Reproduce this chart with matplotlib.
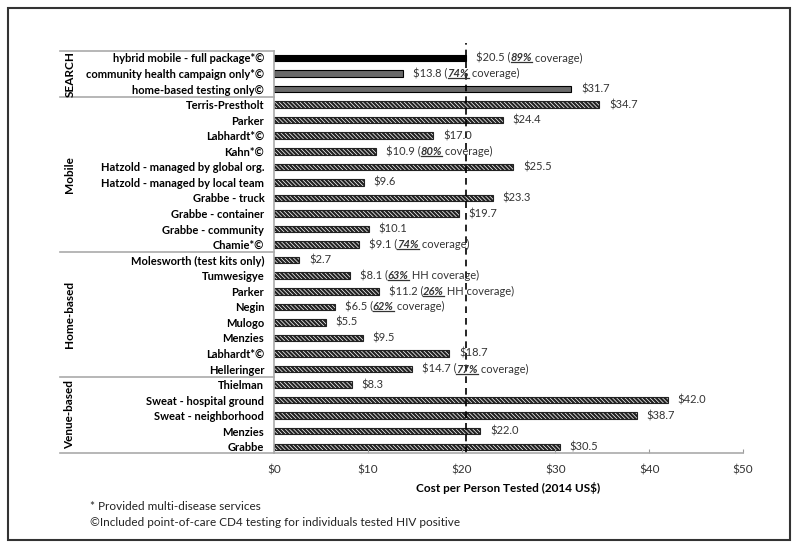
import numpy as np
import matplotlib
matplotlib.use("Agg")
import matplotlib.pyplot as plt
from matplotlib.patches import Rectangle
import matplotlib.transforms as mtransforms

plt.rcParams['font.family'] = ['Lato', 'DejaVu Sans']
plt.rcParams['hatch.linewidth'] = 1.6

################################################################################
# data

names = ["hybrid mobile - full package*\u00a9", "community health campaign only*\u00a9",
         "home-based testing only\u00a9",
         "Terris-Prestholt", "Parker", "Labhardt*\u00a9", "Kahn*\u00a9",
         "Hatzold - managed by global org.", "Hatzold - managed by local team",
         "Grabbe - truck", "Grabbe - container", "Grabbe - community", "Chamie*\u00a9",
         "Molesworth (test kits only)", "Tumwesigye", "Parker", "Negin", "Mulogo",
         "Menzies", "Labhardt*\u00a9", "Helleringer",
         "Thielman", "Sweat - hospital ground", "Sweat - neighborhood", "Menzies", "Grabbe"]
costs = [20.5, 13.8, 31.7,
         34.7, 24.4, 17.0, 10.9, 25.5, 9.6, 23.3, 19.7, 10.1, 9.1,
         2.7, 8.1, 11.2, 6.5, 5.5, 9.5, 18.7, 14.7,
         8.3, 42.0, 38.7, 22.0, 30.5]
coverage = ["89%", "74%", None,
            None, None, None, "80%", None, None, None, None, None, "74%",
            None, "63%", "26%", "62%", None, None, None, "77%",
            None, None, None, None, None]
coverage_txt = {"63%": " HH coverage)", "26%": " HH coverage)"}
groups = ["SEARCH", "Mobile", "Home-based", "Venue-based"]
group_sizes = [3, 10, 8, 5]
search_value = 20.5

xticks = [0, 10, 20, 30, 40, 50]

################################################################################

fig = plt.figure(figsize=(8, 5.5), dpi=100)
ax = fig.add_axes([274/800, 1-453/550, (743-274)/800, (453-51)/550])

y = np.arange(len(names))
for i, (v, yy) in enumerate(zip(costs, y)):
    if i == 0:
        ax.barh(yy, v, height=0.42, color='black', edgecolor='black', lw=0.8)
    elif i < 3:
        ax.barh(yy, v, height=0.42, color='#6a6a6a', edgecolor='black', lw=0.8)
    else:
        ax.barh(yy, v, height=0.42, color='white', edgecolor='#222222', lw=0.8,
                hatch='\\\\\\\\\\\\\\\\')

ax.set_xlim(0, 50)
ax.set_ylim(len(names) - 0.6, -0.45)
ax.set_yticks(y)
ax.set_yticklabels(names, fontsize=8, fontweight='bold')
ax.tick_params(axis='y', length=0, pad=7)
ax.set_xticks(xticks)
ax.set_xticklabels(["$%d" % t for t in xticks], fontsize=8.5, color='#333333')
ax.tick_params(axis='x', direction='in', length=3, color='#999999', pad=8)
ax.set_xlabel("Cost per Person Tested (2014 US$)", fontsize=8.5,
              fontweight='bold', labelpad=5)
for s in ['top', 'right']:
    ax.spines[s].set_visible(False)
for s in ['left', 'bottom']:
    ax.spines[s].set_color('#aaaaaa')
    ax.spines[s].set_linewidth(1.2)

ax.axvline(search_value, color='black', ls=(0, (4, 3)), lw=1.2, ymax=1.02, clip_on=False)

# value labels
fig.canvas.draw()
r = fig.canvas.get_renderer()
tcol = '#333333'
fs = 8
for i, (v, yy) in enumerate(zip(costs, y)):
    if coverage[i] is None:
        ax.annotate("$%.1f" % v, (v, yy), xytext=(7, 0), textcoords='offset points',
                    va='center', fontsize=fs, color=tcol)
        continue
    t1 = ax.annotate("$%.1f (" % v, (v, yy), xytext=(7, 0), textcoords='offset points',
                     va='center', fontsize=fs, color=tcol)
    bb = t1.get_window_extent(r)
    x1 = ax.transData.inverted().transform((bb.x1, 0))[0]
    t2 = ax.text(x1, yy, coverage[i], va='center', fontsize=fs, color=tcol,
                 fontweight='bold', fontstyle='italic')
    bb2 = t2.get_window_extent(r)
    x2 = ax.transData.inverted().transform((bb2.x1, 0))[0]
    ax.text(x2, yy, coverage_txt.get(coverage[i], " coverage)"), va='center',
            fontsize=fs, color=tcol)
    ul = bb2.y0 + 1
    p0 = ax.transData.inverted().transform((bb2.x0, ul))
    p1 = ax.transData.inverted().transform((bb2.x1, ul))
    ax.plot([p0[0], p1[0]], [p0[1], p1[1]], color=tcol, lw=0.9, clip_on=False)

# group separators and labels
trans = mtransforms.blended_transform_factory(fig.transFigure, ax.transData)
edges = np.concatenate([[0], np.cumsum(group_sizes)]) - 0.5
edges[0] = -0.45
edges[-1] = len(names) - 0.6
for e in edges:
    ax.plot([60/800, 274/800], [e, e], transform=trans, color='#aaaaaa', lw=1.2,
            clip_on=False)
for g, a, b in zip(groups, edges[:-1], edges[1:]):
    ax.text(70/800, (a + b) / 2, g, transform=trans, rotation=90, ha='center',
            va='center', fontsize=8.5, fontweight='bold')

# footnotes
fig.text(90/800, 1-507/550, "* Provided multi-disease services", fontsize=8.5,
         va='center', color='#222222')
fig.text(90/800, 1-522/550, "\u00a9Included point-of-care CD4 testing for individuals tested HIV positive",
         fontsize=8.5, va='center', color='#222222')

fig.patches.append(Rectangle((8/800, 1-540/550), 782/800, 532/550, transform=fig.transFigure,
                             fill=False, edgecolor='#333333', lw=1.5))

fig.savefig("out.png", dpi=100)
